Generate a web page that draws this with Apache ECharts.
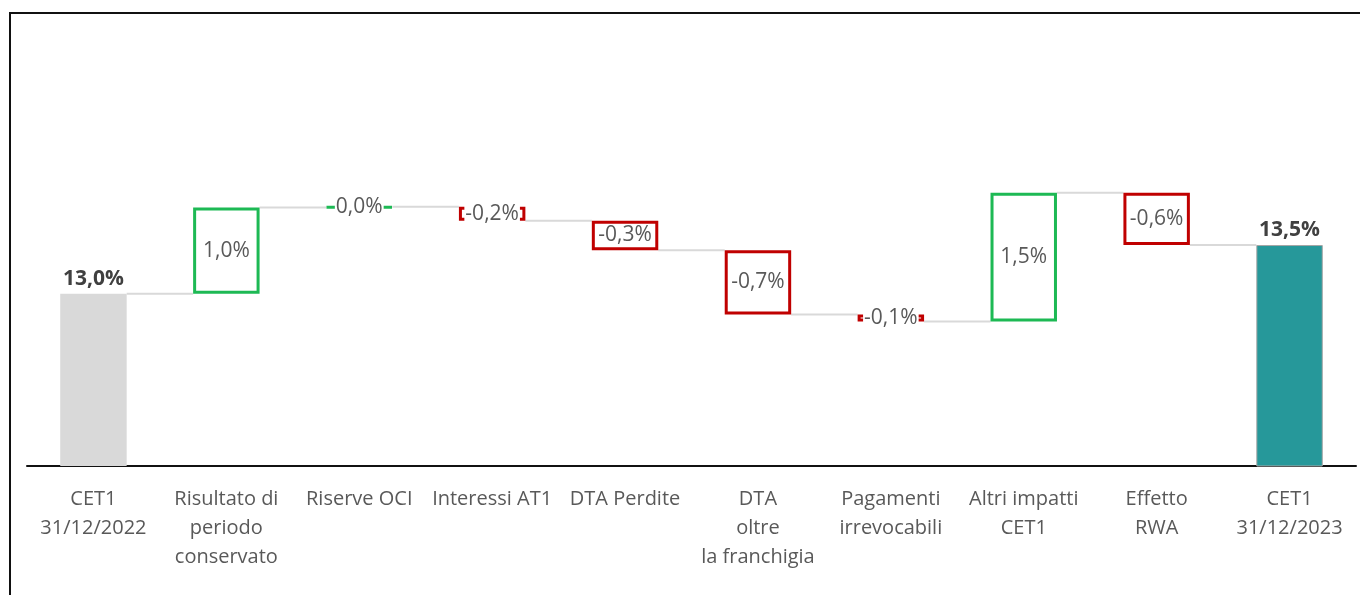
<!DOCTYPE html>
<html>
<head>
    <meta charset="utf-8">
    <title>CET1 waterfall</title>
    <script src="https://cdn.jsdelivr.net/npm/echarts@6/dist/echarts.min.js"></script>
    <style>
        body { margin: 0; background: #fff; }
        #frame { position: absolute; left: 9px; top: 12px; width: 1400px; height: 700px;
                 border-top: 2px solid #111; border-left: 2px solid #111; }
        #main { position: absolute; left: 0; top: 0; width: 1360px; height: 595px; }
    </style>
</head>
<body>
    <div id="frame"></div>
    <div id="main"></div>
    <script type="text/javascript">
        // dati del grafico
        var categories = ['CET1\n31/12/2022', 'Risultato di\nperiodo\nconservato', 'Riserve OCI', 'Interessi AT1',
            'DTA Perdite', 'DTA\noltre\nla franchigia', 'Pagamenti\nirrevocabili', 'Altri impatti\nCET1',
            'Effetto\nRWA', 'CET1\n31/12/2023'];
        var startValue = 12.98;
        var deltas = [0.99, 0.01, -0.16, -0.34, -0.74, -0.08, 1.48, -0.60];
        var endValue = 13.54;

        var fmt = function (v) { return v.toFixed(1).replace('.', ',') + '%'; };

        // costruzione serie waterfall
        var totalLabel = { position: 'top', fontWeight: 'bold', fontSize: 21, color: '#404040',
            backgroundColor: 'transparent', distance: 4 };
        var baseData = [0];
        var deltaData = [{ value: startValue, itemStyle: { color: '#d9d9d9', borderWidth: 0 },
            label: Object.assign({ formatter: fmt(startValue) }, totalLabel) }];
        var levels = [startValue];
        var lvl = startValue;
        for (var i = 0; i < deltas.length; i++) {
            var d = deltas[i];
            var next = lvl + d;
            baseData.push(Math.min(lvl, next));
            deltaData.push({
                value: Math.abs(d),
                itemStyle: { color: '#ffffff', borderColor: d >= 0 ? '#1db954' : '#c00000', borderWidth: 3 },
                label: { formatter: fmt(d) }
            });
            lvl = next;
            levels.push(lvl);
        }
        baseData.push(0);
        deltaData.push({ value: endValue, itemStyle: { color: '#26989a', borderColor: '#a6a6a6', borderWidth: 1 },
            label: Object.assign({ formatter: fmt(endValue) }, totalLabel) });

        var connectors = [];
        for (var j = 0; j < levels.length; j++) connectors.push([j, levels[j]]);

        var myChart = echarts.init(document.getElementById('main'));
        var option = {
            animation: false,
            textStyle: { fontFamily: 'Open Sans' },
            grid: { left: 27, right: 4, top: 31, bottom: 129 },
            xAxis: {
                type: 'category',
                data: categories,
                axisLine: { lineStyle: { color: '#111', width: 2 } },
                axisTick: { show: false },
                axisLabel: { interval: 0, color: '#595959', fontSize: 20, lineHeight: 29, margin: 19 }
            },
            yAxis: {
                type: 'value', min: 11, max: 16, show: false, splitLine: { show: false }
            },
            series: [
                {
                    type: 'custom',
                    data: connectors,
                    z: 1,
                    renderItem: function (params, api) {
                        var idx = api.value(0);
                        if (idx >= categories.length - 1) return;
                        var y = api.value(1);
                        var p1 = api.coord([idx, y]);
                        var p2 = api.coord([idx + 1, y]);
                        var bw = api.size([1, 0])[0] * 0.5;
                        return {
                            type: 'line',
                            shape: { x1: p1[0] + bw / 2, y1: p1[1], x2: p2[0] - bw / 2, y2: p2[1] },
                            style: { stroke: '#d9d9d9', lineWidth: 2 }
                        };
                    }
                },
                {
                    name: 'base',
                    type: 'bar',
                    stack: 'w',
                    barWidth: '50%',
                    itemStyle: { color: 'transparent' },
                    data: baseData,
                    z: 2
                },
                {
                    name: 'delta',
                    type: 'bar',
                    stack: 'w',
                    barWidth: '50%',
                    z: 3,
                    label: {
                        show: true,
                        position: 'inside',
                        fontSize: 21,
                        color: '#595959',
                        backgroundColor: '#ffffff',
                        lineHeight: 22,
                        padding: [0, 1]
                    },
                    data: deltaData
                }
            ]
        };
        myChart.setOption(option);
    </script>
</body>
</html>
